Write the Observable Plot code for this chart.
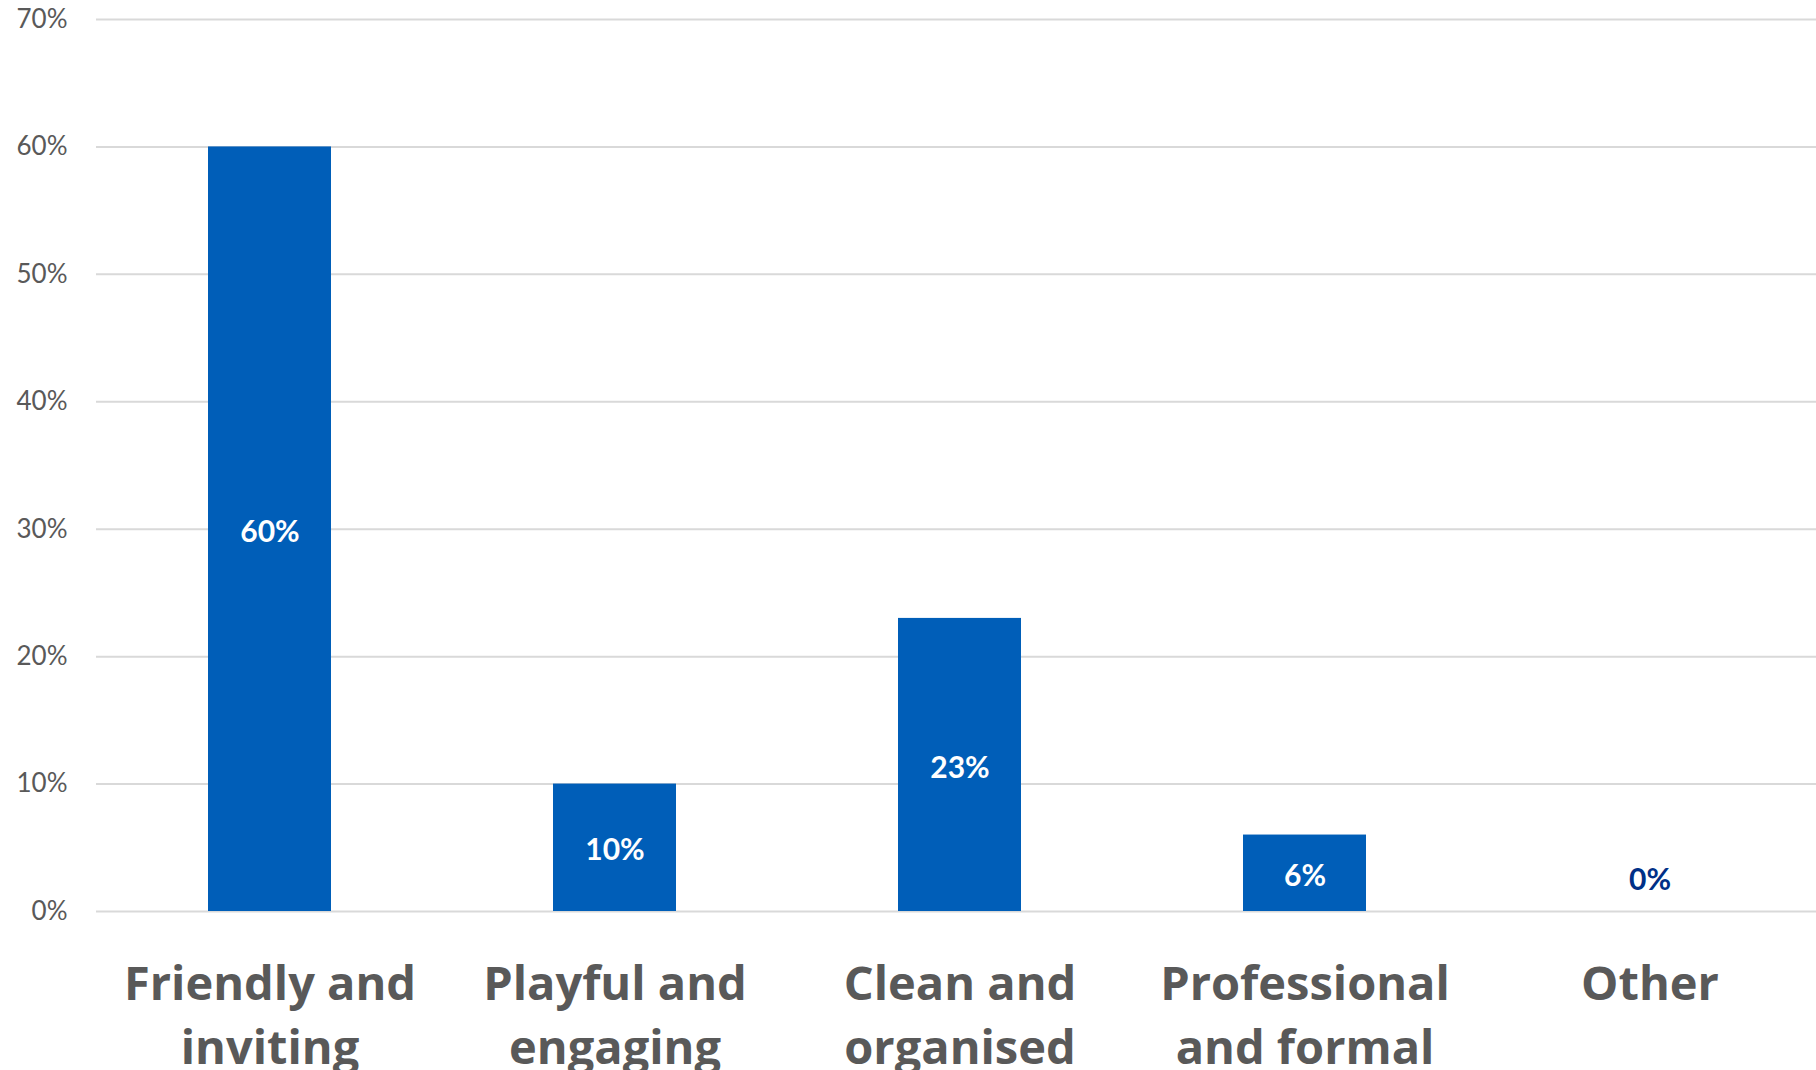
<!DOCTYPE html>
<html>
<head>
<meta charset="utf-8">
<script src="https://cdn.jsdelivr.net/npm/d3@7"></script>
<script src="https://cdn.jsdelivr.net/npm/@observablehq/plot@0.6"></script>
<style>
  html, body { margin: 0; padding: 0; background: #fff; }
  #chart svg { display: block; }
</style>
</head>
<body>
<div id="chart"></div>
<script>
const categories = ["Friendly and inviting", "Playful and engaging", "Clean and organised", "Professional and formal", "Other"];
const categoryLabels = ["Friendly and\ninviting", "Playful and\nengaging", "Clean and\norganised", "Professional\nand formal", "Other"];
const values = [60, 10, 23, 6, 0];
const yTicks = [0, 10, 20, 30, 40, 50, 60, 70];

const data = categories.map((c, i) => ({category: c, value: values[i]}));
const labelOf = new Map(categories.map((c, i) => [c, categoryLabels[i]]));

const BLUE = "#005EB8";
const NAVY = "#003087";

const chart = Plot.plot({
  width: 1816,
  height: 1070,
  marginTop: 19,
  marginBottom: 159,
  marginLeft: 96,
  marginRight: 0,
  style: {fontFamily: "Lato, 'Open Sans', sans-serif", background: "#fff"},
  x: {domain: categories, range: [96, 1823], paddingInner: 0.644, paddingOuter: 0.322, align: 0.5},
  y: {domain: [0, 70]},
  marks: [
    Plot.gridY(yTicks, {stroke: "#d9d9d9", strokeOpacity: 1, strokeWidth: 2}),
    Plot.axisY(yTicks, {
      tickSize: 0, tickPadding: 29, fontSize: 26, fill: "#595959",
      tickFormat: d => d + "%", label: null
    }),
    Plot.barY(data, {x: "category", y: "value", fill: BLUE}),
    Plot.text(data.filter(d => d.value > 0), {
      x: "category", y: d => d.value / 2, text: d => d.value + "%",
      fill: "white", fontSize: 30, fontWeight: "bold", dy: 3
    }),
    Plot.text(data.filter(d => d.value === 0), {
      x: "category", y: "value", text: d => d.value + "%",
      fill: NAVY, fontSize: 30, fontWeight: "bold", dy: -31
    }),
    Plot.axisX({
      tickSize: 0, tickPadding: 43, fontSize: 47, fontWeight: "bold", fill: "#595959",
      fontFamily: "'Open Sans', Lato, sans-serif",
      lineHeight: 1.36, tickFormat: d => labelOf.get(d), label: null
    })
  ]
});
document.getElementById("chart").appendChild(chart);
</script>
</body>
</html>
